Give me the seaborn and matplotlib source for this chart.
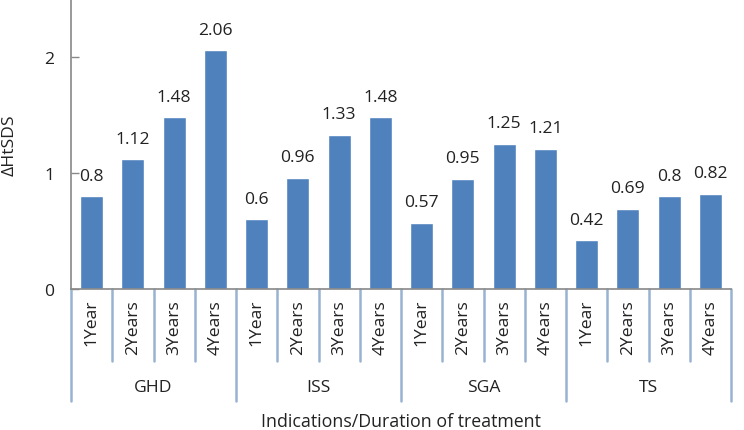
import matplotlib
matplotlib.use("Agg")
import matplotlib.pyplot as plt
import seaborn as sns
import pandas as pd

groups = ["GHD", "ISS", "SGA", "TS"]
durations = ["1Year", "2Years", "3Years", "4Years"]
ghd = [0.8, 1.12, 1.48, 2.06]
iss = [0.6, 0.96, 1.33, 1.48]
sga = [0.57, 0.95, 1.25, 1.21]
ts = [0.42, 0.69, 0.8, 0.82]
yticks = [0, 1, 2]

values = ghd + iss + sga + ts
rows = []
for gi, g in enumerate(groups):
    for di, d in enumerate(durations):
        rows.append({"key": f"{g}-{d}", "group": g, "duration": d,
                     "value": values[gi * len(durations) + di]})
df = pd.DataFrame(rows)

sns.set_theme(style="white")
plt.rcParams["font.family"] = ["Open Sans", "DejaVu Sans"]
FS = 12.6

fig = plt.figure(figsize=(7.44, 4.31), dpi=100)
ax = fig.add_axes([71 / 744, 1 - 290 / 431, (731 - 71) / 744, 290 / 431])

bar_color = "#4F81BD"
sns.barplot(data=df, x="key", y="value", order=list(df["key"]), color=bar_color,
            width=0.56, saturation=1, ax=ax, errorbar=None)

ax.set_xlim(-0.5, len(df) - 0.5)
ax.set_ylim(0, 2.5)
ax.set_yticks(yticks)
ax.set_yticklabels([str(t) for t in yticks], fontsize=FS, color="#222222")
ax.tick_params(axis="y", direction="in", length=6, width=1, color="#888888", pad=12, left=True)
ax.tick_params(axis="x", length=0)
ax.set_xticks([])
ax.set_xlabel("")
ax.set_ylabel("ΔHtSDS", fontsize=FS, color="#222222", labelpad=19)

for s in ["top", "right"]:
    ax.spines[s].set_visible(False)
for s in ["left", "bottom"]:
    ax.spines[s].set_color("#888888")
    ax.spines[s].set_linewidth(1.2)

# value labels
for i, v in enumerate(df["value"]):
    ax.annotate(f"{v:g}", xy=(i, v), xytext=(0, 9), textcoords="offset points",
                ha="center", va="bottom", fontsize=FS, color="#222222")

trans = ax.get_xaxis_transform()
sep_color = "#98B2D2"
n = len(df)
for i in range(n + 1):
    x = i - 0.5
    if i % len(durations) == 0:
        y1 = -112 / 290
    else:
        y1 = -72 / 290
    ax.plot([x, x], [0, y1], transform=trans, clip_on=False, color=sep_color, lw=1.8)

for i, d in enumerate(df["duration"]):
    ax.text(i, -10 / 290, d, transform=trans, rotation=90, ha="center", va="top",
            fontsize=FS, color="#222222")

for gi, g in enumerate(groups):
    xc = gi * len(durations) + (len(durations) - 1) / 2
    ax.text(xc, -98 / 290, g, transform=trans, ha="center", va="center",
            fontsize=FS, color="#222222")

fig.text((71 + 731) / 2 / 744, 1 - 422 / 431, "Indications/Duration of treatment",
         ha="center", va="center", fontsize=FS + 0.2, color="#222222")

fig.savefig("out.png", dpi=100)
